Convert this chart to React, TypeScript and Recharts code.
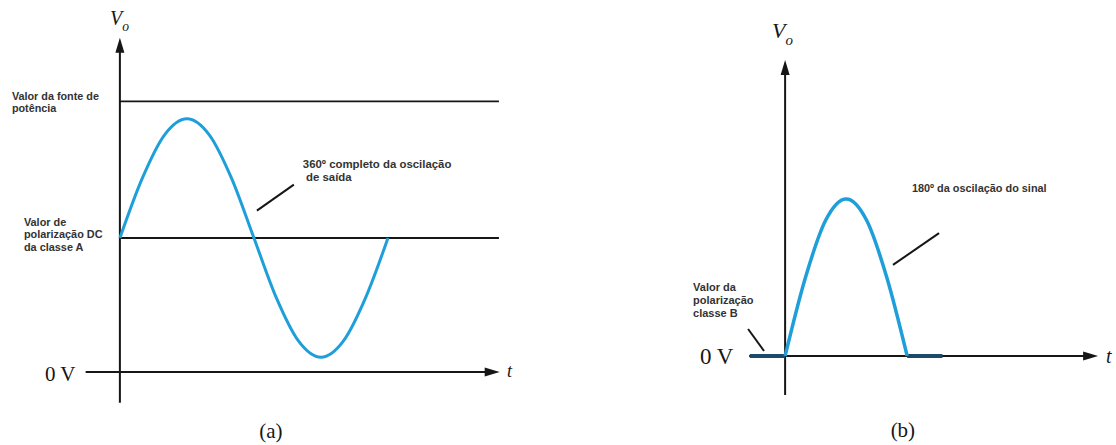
import { LineChart, Line, XAxis, YAxis, ReferenceLine, ReferenceDot } from "recharts";

// (a) amplificador classe A: saída em graus x tensão
const anguloA = [0, 30, 60, 90, 120, 150, 180, 210, 240, 270, 300, 330, 360];
const saidaA = [10, 14.45, 17.7, 18.9, 17.7, 14.45, 10, 5.55, 2.3, 1.1, 2.3, 5.55, 10];
const fonteA = 20.2;
const polarizacaoA = 10;
const fimLinhasA = 509;

// (b) amplificador classe B: meio ciclo
const anguloB = [0, 30, 60, 90, 120, 150, 180];
const saidaB = [0, 5, 8.66, 10, 8.66, 5, 0];
const repousoX = [-52, 0, 90, 180, 232];
const repousoY = [0, 0, null, 0, 0];

// textos
const rotuloFonte = ["Valor da fonte de", "potência"];
const rotuloDC = ["Valor de", "polarização DC", "da classe A"];
const rotuloOscA = ["360º completo da oscilação", " de saída"];
const rotuloOscB = ["180º da oscilação do sinal"];
const rotuloB = ["Valor da", "polarização", "classe B"];

const serieA = anguloA.map((x, i) => ({ x, y: saidaA[i] }));
const serieB = anguloB.map((x, i) => ({ x, y: saidaB[i] }));
const serieRepouso = repousoX.map((x, i) => ({ x, y: repousoY[i] }));

const AZUL = "#1f9fd9";
const PRETO = "#161616";
const SANS = "'Liberation Sans', Arial, sans-serif";
const SERIF = "'Liberation Serif', 'Times New Roman', serif";

function Seta(props: any) {
  const { x1, y1, x2, y2 } = props;
  const ang = Math.atan2(y2 - y1, x2 - x1);
  const len = 15;
  const half = 4.5;
  const bx = x2 - len * Math.cos(ang);
  const by = y2 - len * Math.sin(ang);
  const px = -Math.sin(ang) * half;
  const py = Math.cos(ang) * half;
  return (
    <g>
      <line x1={x1} y1={y1} x2={bx + 2 * Math.cos(ang)} y2={by + 2 * Math.sin(ang)} stroke={PRETO} strokeWidth={2} />
      <polygon points={`${x2},${y2} ${bx + px},${by + py} ${bx - px},${by - py}`} fill={PRETO} />
    </g>
  );
}

function texto(linhas: string[], size: number, lh: number, opts: any = {}) {
  return (p: any) => (
    <text
      x={p.cx}
      y={p.cy}
      fontSize={size}
      fontFamily={opts.family || SANS}
      fontWeight={opts.weight ?? 700}
      fontStyle={opts.style || "normal"}
      fill={opts.fill || "#333"}
      textAnchor={opts.anchor || "start"}
    >
      {linhas.map((l, i) => (
        <tspan key={i} x={p.cx} dy={i === 0 ? 0 : lh} style={{ whiteSpace: "pre" }}>
          {l}
        </tspan>
      ))}
    </text>
  );
}

function vo(size: number) {
  return (p: any) => (
    <text x={p.cx} y={p.cy} fontFamily={SERIF} fontStyle="italic" fill={PRETO}>
      <tspan fontSize={size}>V</tspan>
      <tspan fontSize={size * 0.68} dy={size * 0.3}>o</tspan>
    </text>
  );
}

const vazio = { top: 0, right: 0, bottom: 0, left: 0 };
const serifa = { family: SERIF, weight: 400, fill: PRETO };

function PainelA() {
  return (
    <LineChart width={560} height={445} margin={vazio}>
      <XAxis type="number" dataKey="x" domain={[-161, 591]} hide allowDataOverflow />
      <YAxis type="number" domain={[-5.45, 27.76]} hide allowDataOverflow />
      <ReferenceLine segment={[{ x: 0, y: fonteA }, { x: fimLinhasA, y: fonteA }]} stroke={PRETO} strokeWidth={1.8} />
      <ReferenceLine segment={[{ x: 0, y: polarizacaoA }, { x: fimLinhasA, y: polarizacaoA }]} stroke={PRETO} strokeWidth={1.8} />
      <ReferenceLine segment={[{ x: -46, y: 0 }, { x: 510, y: 0 }]} shape={Seta} />
      <ReferenceLine segment={[{ x: 0, y: -2.3 }, { x: 0, y: 24.95 }]} shape={Seta} />
      <ReferenceLine segment={[{ x: 184, y: 12.04 }, { x: 233.6, y: 13.98 }]} stroke={PRETO} strokeWidth={2} />
      <Line
        data={serieA}
        dataKey="y"
        type="monotone"
        stroke={AZUL}
        strokeWidth={3}
        dot={false}
        activeDot={false}
        isAnimationActive={false}
      />
      <ReferenceDot x={-145} y={20.32} r={0} shape={texto(rotuloFonte, 10.8, 12)} />
      <ReferenceDot x={-128.9} y={10.92} r={0} shape={texto(rotuloDC, 10.9, 12.5)} />
      <ReferenceDot x={245.7} y={15.25} r={0} shape={texto(rotuloOscA, 11.4, 13)} />
      <ReferenceDot x={-100.7} y={-0.65} r={0} shape={texto(["0 V"], 21, 21, serifa)} />
      <ReferenceDot x={-13.4} y={25.9} r={0} shape={vo(20)} />
      <ReferenceDot x={519.7} y={-0.35} r={0} shape={texto(["t"], 18, 18, { ...serifa, style: "italic" })} />
      <ReferenceDot x={202.8} y={-4.9} r={0} shape={texto(["(a)"], 21, 21, { ...serifa, anchor: "middle" })} />
    </LineChart>
  );
}

function PainelB() {
  return (
    <LineChart width={556} height={445} margin={vazio}>
      <XAxis type="number" dataKey="x" domain={[-332, 488]} hide allowDataOverflow />
      <YAxis type="number" domain={[-5.669, 22.675]} hide allowDataOverflow />
      <ReferenceLine segment={[{ x: -53, y: 0 }, { x: 461.6, y: 0 }]} shape={Seta} />
      <ReferenceLine segment={[{ x: 0, y: -2.48 }, { x: 0, y: 18.85 }]} shape={Seta} />
      <ReferenceLine segment={[{ x: 159.1, y: 5.8 }, { x: 227, y: 7.83 }]} stroke={PRETO} strokeWidth={2} />
      <ReferenceLine segment={[{ x: -54.6, y: 1.72 }, { x: -31.1, y: 0.32 }]} stroke={PRETO} strokeWidth={2} />
      <Line
        data={serieRepouso}
        dataKey="y"
        type="linear"
        stroke="#1d4a68"
        strokeWidth={4}
        dot={false}
        activeDot={false}
        connectNulls={false}
        isAnimationActive={false}
      />
      <Line
        data={serieB}
        dataKey="y"
        type="monotone"
        stroke={AZUL}
        strokeWidth={3.5}
        dot={false}
        activeDot={false}
        isAnimationActive={false}
      />
      <ReferenceDot x={187} y={10.45} r={0} shape={texto(rotuloOscB, 10.9, 12)} />
      <ReferenceDot x={-135.8} y={4.14} r={0} shape={texto(rotuloB, 11, 13)} />
      <ReferenceDot x={-125.5} y={-0.51} r={0} shape={texto(["0 V"], 23, 23, serifa)} />
      <ReferenceDot x={-19.3} y={20.25} r={0} shape={vo(22)} />
      <ReferenceDot x={473.3} y={-0.45} r={0} shape={texto(["t"], 20, 20, { ...serifa, style: "italic" })} />
      <ReferenceDot x={173.7} y={-5.16} r={0} shape={texto(["(b)"], 21, 21, { ...serifa, anchor: "middle" })} />
    </LineChart>
  );
}

export default function App() {
  return (
    <div style={{ position: "absolute", left: 0, top: 0, width: 1116, height: 445, background: "#fff", display: "flex" }}>
      <PainelA />
      <PainelB />
    </div>
  );
}
